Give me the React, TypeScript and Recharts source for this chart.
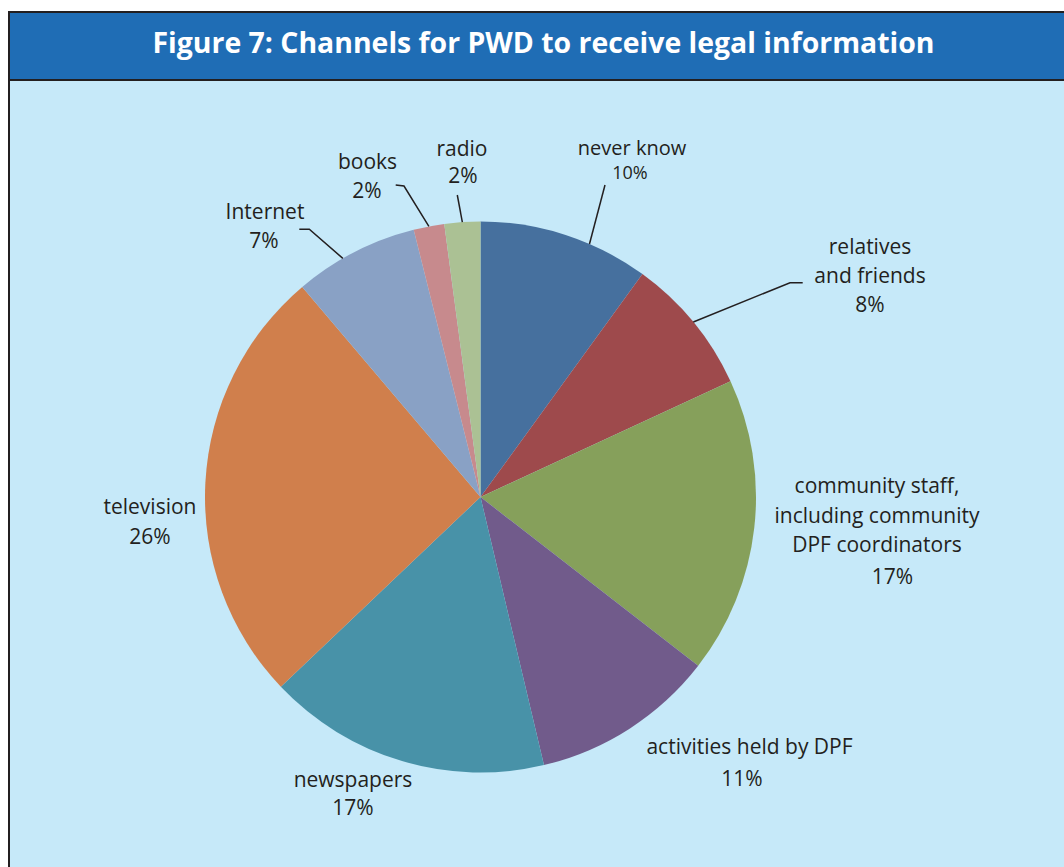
import { PieChart, Pie, Cell } from 'recharts'

const categories = [
    'never know',
    'relatives\nand friends',
    'community staff,\nincluding community\nDPF coordinators',
    'activities held by DPF',
    'newspapers',
    'television',
    'Internet',
    'books',
    'radio',
]
const shares = [10.0, 8.1, 17.4, 10.8, 16.6, 25.9, 7.3, 1.8, 2.1]
const colors = ['#46709e', '#9e4a4c', '#86a05b', '#715b8b', '#4892a8', '#d07f4c', '#89a1c5', '#c78a8d', '#abc194']

// label placement, relative to pie centre
const labelPos = [
    { x: 151.5, y: -342, fs: 20, lh: 0, px: 149.5, py: -318.5, pfs: 18, line: { tweak: -5.3, pts: [[124.5, -312]] } },
    { x: 389.5, y: -242.7, fs: 21, lh: 29, px: 389.5, py: -184.7, pfs: 21, line: { tweak: 0, pts: [[309.5, -214.3], [322.2, -214.3]] } },
    { x: 396.5, y: -3.7, fs: 21, lh: 29.2, px: 412, py: 87, pfs: 21, line: null },
    { x: 269, y: 257, fs: 21, lh: 0, px: 261.5, py: 289, pfs: 21, line: null },
    { x: -127.5, y: 290.3, fs: 21, lh: 0, px: -127.5, py: 318, pfs: 21, line: null },
    { x: -330.5, y: 17.3, fs: 21, lh: 0, px: -330.5, py: 47, pfs: 21, line: null },
    { x: -215.5, y: -277.7, fs: 21, lh: 0, px: -216.5, py: -248.7, pfs: 21, line: { tweak: 2.8, pts: [[-171.2, -267.7], [-181.2, -267.7]] } },
    { x: -113, y: -327.7, fs: 21, lh: 0, px: -113.5, py: -298.7, pfs: 21, line: { tweak: 0, pts: [[-76.5, -311], [-84.8, -312]] } },
    { x: -18.5, y: -341, fs: 21, lh: 0, px: -17.5, py: -313.7, pfs: 21, line: { tweak: 0, pts: [[-23.2, -302]] } },
]

const data = categories.map((name, i) => ({ name, value: shares[i] }))

const RAD = Math.PI / 180
const TEXT = '#231f20'
const FONT = '"Open Sans", sans-serif'

const renderLabel = (props: any) => {
    const { cx, cy, midAngle, outerRadius, index, percent } = props
    const pos = labelPos[index]
    const lines = categories[index].split('\n')
    let leader = null
    if (pos.line) {
        const a = (midAngle + pos.line.tweak) * RAD
        const sx = cx + outerRadius * Math.cos(-a)
        const sy = cy + outerRadius * Math.sin(-a)
        const pts = [[sx, sy], ...pos.line.pts.map(([dx, dy]) => [cx + dx, cy + dy])]
        leader = <polyline points={pts.map((p) => p.join(',')).join(' ')} fill="none" stroke={TEXT} strokeWidth={1.5} />
    }
    return (
        <g key={`lbl-${index}`}>
            {leader}
            {lines.map((t, k) => (
                <text key={k} x={cx + pos.x} y={cy + pos.y + k * pos.lh} textAnchor="middle" fill={TEXT} fontSize={pos.fs} fontFamily={FONT}>
                    {t}
                </text>
            ))}
            <text x={cx + pos.px} y={cy + pos.py} textAnchor="middle" fill={TEXT} fontSize={pos.pfs} fontFamily={FONT}>
                {`${Math.round(percent * 100)}%`}
            </text>
        </g>
    )
}

export default function App() {
    return (
        <div style={{ position: 'fixed', left: 0, top: 0, width: 1064, height: 867, background: '#fff', overflow: 'hidden' }}>
            <div style={{
                position: 'absolute', left: 8, top: 11, width: 1070, height: 870,
                borderLeft: `2px solid ${TEXT}`, borderTop: `2px solid ${TEXT}`, background: '#c6e9f9',
            }} />
            <div style={{
                position: 'absolute', left: 10, top: 13, width: 1060, height: 66,
                background: '#1f6db5', borderBottom: `2px solid ${TEXT}`,
            }} />
            <svg width={1064} height={80} style={{ position: 'absolute', left: 0, top: 0 }}>
                <text x={152.5} y={53.3} fill="#fff" fontSize={29} fontWeight={700} fontFamily={FONT} textLength={782} lengthAdjust="spacingAndGlyphs">
                    Figure 7: Channels for PWD to receive legal information
                </text>
            </svg>
            <div style={{ position: 'absolute', left: 0, top: 0 }}>
                <PieChart width={1064} height={867} margin={{ top: 0, right: 0, bottom: 0, left: 0 }}>
                    <Pie
                        data={data}
                        dataKey="value"
                        nameKey="name"
                        cx={480.5}
                        cy={497}
                        outerRadius={275.5}
                        startAngle={90}
                        endAngle={-270}
                        stroke="none"
                        label={renderLabel}
                        labelLine={false}
                        isAnimationActive={false}
                    >
                        {data.map((d, i) => (
                            <Cell key={d.name} fill={colors[i]} />
                        ))}
                    </Pie>
                </PieChart>
            </div>
        </div>
    )
}
